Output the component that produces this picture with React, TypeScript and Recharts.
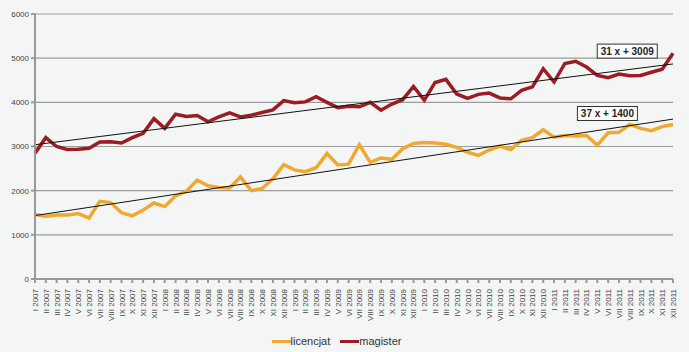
import { LineChart, Line, XAxis, YAxis, CartesianGrid, Legend, ReferenceLine, ReferenceDot } from 'recharts'

const romanMonths = ['I', 'II', 'III', 'IV', 'V', 'VI', 'VII', 'VIII', 'IX', 'X', 'XI', 'XII']
const years = [2007, 2008, 2009, 2010, 2011]
const categories = years.flatMap((y) => romanMonths.map((m) => `${m} ${y}`))

const licencjat = [
  1460, 1420, 1450, 1450, 1480, 1380, 1760, 1730, 1500, 1430, 1560, 1720,
  1640, 1880, 1990, 2240, 2110, 2070, 2060, 2310, 2000, 2050, 2270, 2590,
  2470, 2430, 2520, 2840, 2580, 2600, 3040, 2640, 2740, 2710, 2950, 3070,
  3090, 3080, 3050, 2980, 2870, 2800, 2920, 3010, 2930, 3140, 3200, 3380,
  3210, 3250, 3240, 3250, 3030, 3310, 3320, 3500, 3410, 3360, 3450, 3500
]

const magister = [
  2850, 3200, 3000, 2930, 2940, 2960, 3100, 3110, 3080, 3200, 3300, 3630,
  3410, 3730, 3680, 3700, 3560, 3670, 3760, 3670, 3710, 3770, 3830, 4040,
  3990, 4010, 4130, 4000, 3880, 3910, 3900, 4000, 3820, 3960, 4060, 4360,
  4050, 4450, 4520, 4190, 4090, 4180, 4210, 4100, 4080, 4270, 4350, 4760,
  4460, 4880, 4930, 4800, 4610, 4560, 4640, 4600, 4610, 4680, 4750, 5110
]

// trend endpoints (x = 1 and x = 60) from the printed equations
const trendMagister = [3040, 4869]
const trendLicencjat = [1437, 3620]
const yTicks = [0, 1000, 2000, 3000, 4000, 5000, 6000]

const data = categories.map((month, i) => ({
  month,
  licencjat: licencjat[i],
  magister: magister[i]
}))

const first = categories[0]
const last = categories[categories.length - 1]

function MonthTick({ x, y, payload }: any) {
  return (
    <text
      x={x}
      y={y}
      transform={`rotate(-90, ${x}, ${y})`}
      dx={-4}
      dy={3}
      textAnchor="end"
      fontSize={8}
      fill="#444"
      fontFamily="Liberation Sans, Arial, sans-serif"
    >
      {payload.value}
    </text>
  )
}

function eqBox(text: string, dx: number) {
  return (props: any) => (
    <g>
      <rect x={props.cx + dx - 30} y={props.cy - 7} width={60} height={14} fill="#fff" stroke="#333" strokeWidth={1} />
      <text
        x={props.cx + dx}
        y={props.cy + 3.5}
        textAnchor="middle"
        fontSize={10}
        fontWeight="bold"
        fill="#222"
        fontFamily="Liberation Sans, Arial, sans-serif"
      >
        {text}
      </text>
    </g>
  )
}

function LegendContent() {
  const items = [
    { name: 'licencjat', color: '#f0a830' },
    { name: 'magister', color: '#9b1c23' }
  ]
  return (
    <div style={{ display: 'flex', justifyContent: 'center', gap: 10, height: 20, alignItems: 'center', fontFamily: 'Liberation Sans, Arial, sans-serif', fontSize: 11, color: '#333' }}>
      {items.map((it) => (
        <div key={it.name} style={{ display: 'flex', alignItems: 'center' }}>
          <span style={{ display: 'inline-block', width: 19, height: 3, background: it.color }} />
          <span>{it.name}</span>
        </div>
      ))}
    </div>
  )
}

export default function App() {
  return (
    <div style={{ position: 'absolute', left: 0, top: 0, width: 689, height: 352, background: '#f4f5f5' }}>
      <LineChart width={689} height={352} data={data} margin={{ top: 14, right: 16, left: 0, bottom: 1 }}>
        <CartesianGrid vertical={false} stroke="#9c9c9c" strokeWidth={1.2} />
        <XAxis
          dataKey="month"
          interval={0}
          height={52}
          tick={<MonthTick />}
          stroke="#999"
          strokeWidth={2}
          tickSize={4}
        />
        <YAxis
          width={35}
          domain={[0, 6000]}
          ticks={yTicks}
          tick={{ fontSize: 8, fill: '#444', fontFamily: 'Liberation Sans, Arial, sans-serif' }}
          stroke="#999"
          strokeWidth={2}
          tickSize={4}
        />
        <Line dataKey="licencjat" stroke="#f0a830" strokeWidth={3.5} dot={false} isAnimationActive={false} />
        <Line dataKey="magister" stroke="#9b1c23" strokeWidth={3.5} dot={false} isAnimationActive={false} />
        <ReferenceLine
          segment={[{ x: first, y: trendMagister[0] }, { x: last, y: trendMagister[1] }]}
          stroke="#111"
          strokeWidth={1}
          ifOverflow="visible"
        />
        <ReferenceLine
          segment={[{ x: first, y: trendLicencjat[0] }, { x: last, y: trendLicencjat[1] }]}
          stroke="#111"
          strokeWidth={1}
          ifOverflow="visible"
        />
        <ReferenceDot x="VIII 2011" y={5160} r={0} ifOverflow="visible" shape={eqBox('31 x + 3009', -2.5)} />
        <ReferenceDot x="VI 2011" y={3747} r={0} ifOverflow="visible" shape={eqBox('37 x + 1400', -0.7)} />
        <Legend verticalAlign="bottom" content={<LegendContent />} />
      </LineChart>
    </div>
  )
}
